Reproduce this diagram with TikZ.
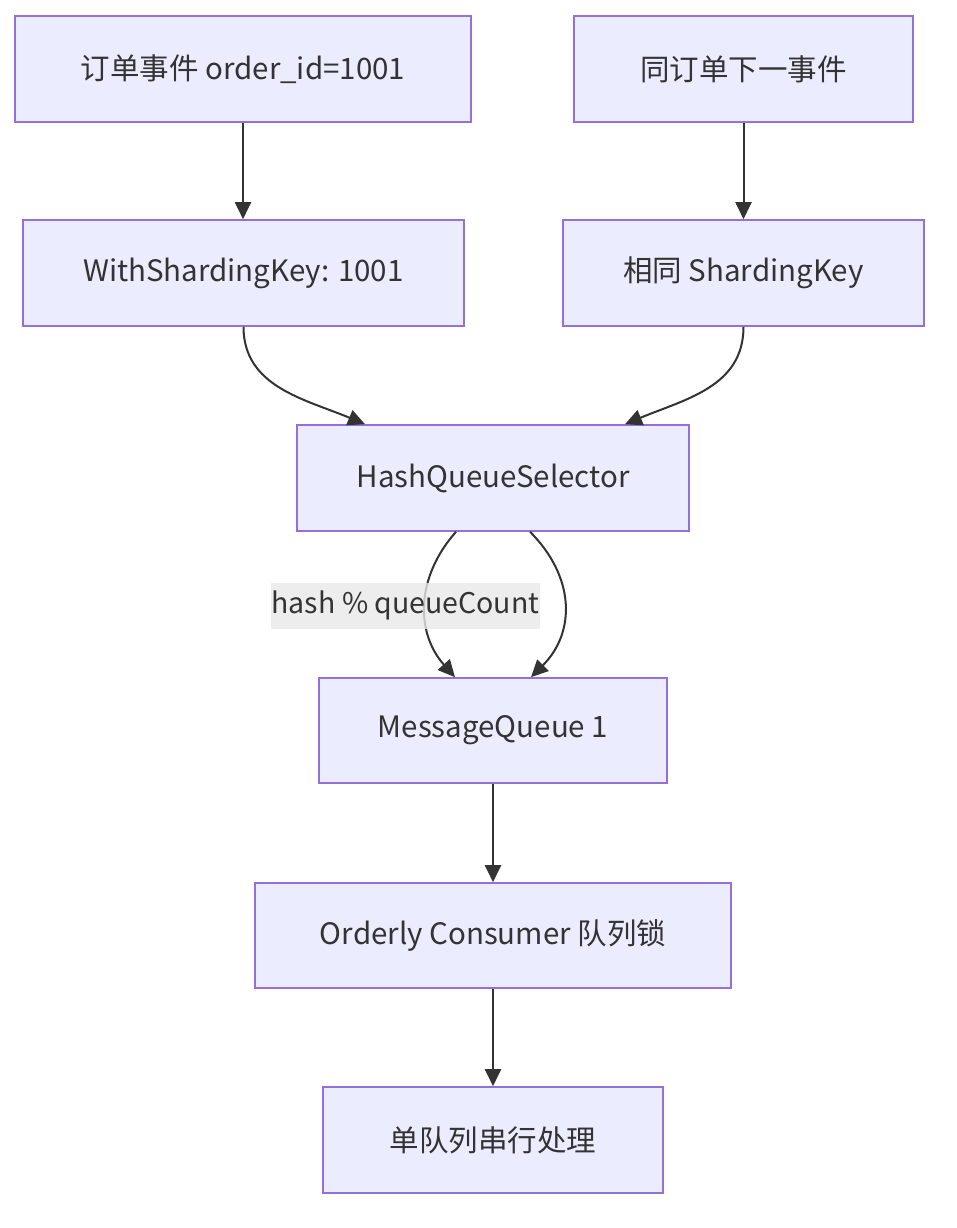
\documentclass[tikz,border=0pt]{standalone}
\usepackage{fontspec}
\setmainfont{Noto Sans CJK SC}
\usetikzlibrary{arrows.meta,positioning}
\definecolor{boxfill}{HTML}{ECECFF}
\definecolor{boxline}{HTML}{9370DB}
\definecolor{edgecol}{HTML}{333333}
\definecolor{lblfill}{HTML}{E8E8E8}

\begin{document}
\begin{tikzpicture}[x=1pt, y=-1pt,
    flowbox/.style={draw=boxline, fill=boxfill, line width=1.6pt,
        minimum height=106pt, inner sep=0pt, text=edgecol,
        font=\fontsize{29.5}{35}\selectfont},
    flow/.style={draw=edgecol, line width=2pt,
        -{Triangle[length=17pt, width=16pt]}},
    edgelabel/.style={fill=lblfill, fill opacity=0.8, text opacity=1,
        text=edgecol, inner xsep=1pt, inner ysep=0pt, minimum height=46pt,
        font=\fontsize{28.5}{34}\selectfont}]
    \useasboundingbox (0,0) rectangle (956,1228);

    % --- Sources ---
    \node[flowbox, minimum width=456pt] (ev1) at (243,69) {订单事件 order\_id=1001};
    \node[flowbox, minimum width=339pt] (ev2) at (743.5,69) {同订单下一事件};

    % --- Sharding keys ---
    \node[flowbox, minimum width=441pt] (key1) at (243.5,273) {WithShardingKey: 1001};
    \node[flowbox, minimum width=361pt] (key2) at (743.5,273) {相同 ShardingKey};

    % --- Selector and queue ---
    \node[flowbox, minimum width=392pt] (sel) at (493,478) {HashQueueSelector};
    \node[flowbox, minimum width=348pt, minimum height=105pt] (mq) at (493,730.5) {MessageQueue 1};

    % --- Consumer ---
    \node[flowbox, minimum width=476pt, minimum height=105pt] (cons) at (493,935.5) {Orderly Consumer 队列锁};
    \node[flowbox, minimum width=340pt] (proc) at (493,1140) {单队列串行处理};

    % Arrows
    \draw[flow] (ev1) -- (key1.north -| ev1);
    \draw[flow] (ev2) -- (key2);
    \draw[flow] (key1.south) .. controls +(0,60) and +(-60,-25) .. ([xshift=-128pt]sel.north);
    \draw[flow] (key2.south) .. controls +(0,60) and +(60,-25) .. ([xshift=132pt]sel.north);
    \draw[flow] ([xshift=-37pt]sel.south) .. controls +(-40,45) and +(-40,-45) .. ([xshift=-38pt]mq.north)
        node[edgelabel, pos=0.5, xshift=-20pt, yshift=-1pt] (hashlbl) {hash \% queueCount};
    \draw[flow] ([xshift=37pt]sel.south) .. controls +(45,45) and +(45,-45) .. ([xshift=38pt]mq.north);
    \draw[flow] (mq) -- (cons);
    \draw[flow] (cons) -- (proc);
\end{tikzpicture}
\end{document}
